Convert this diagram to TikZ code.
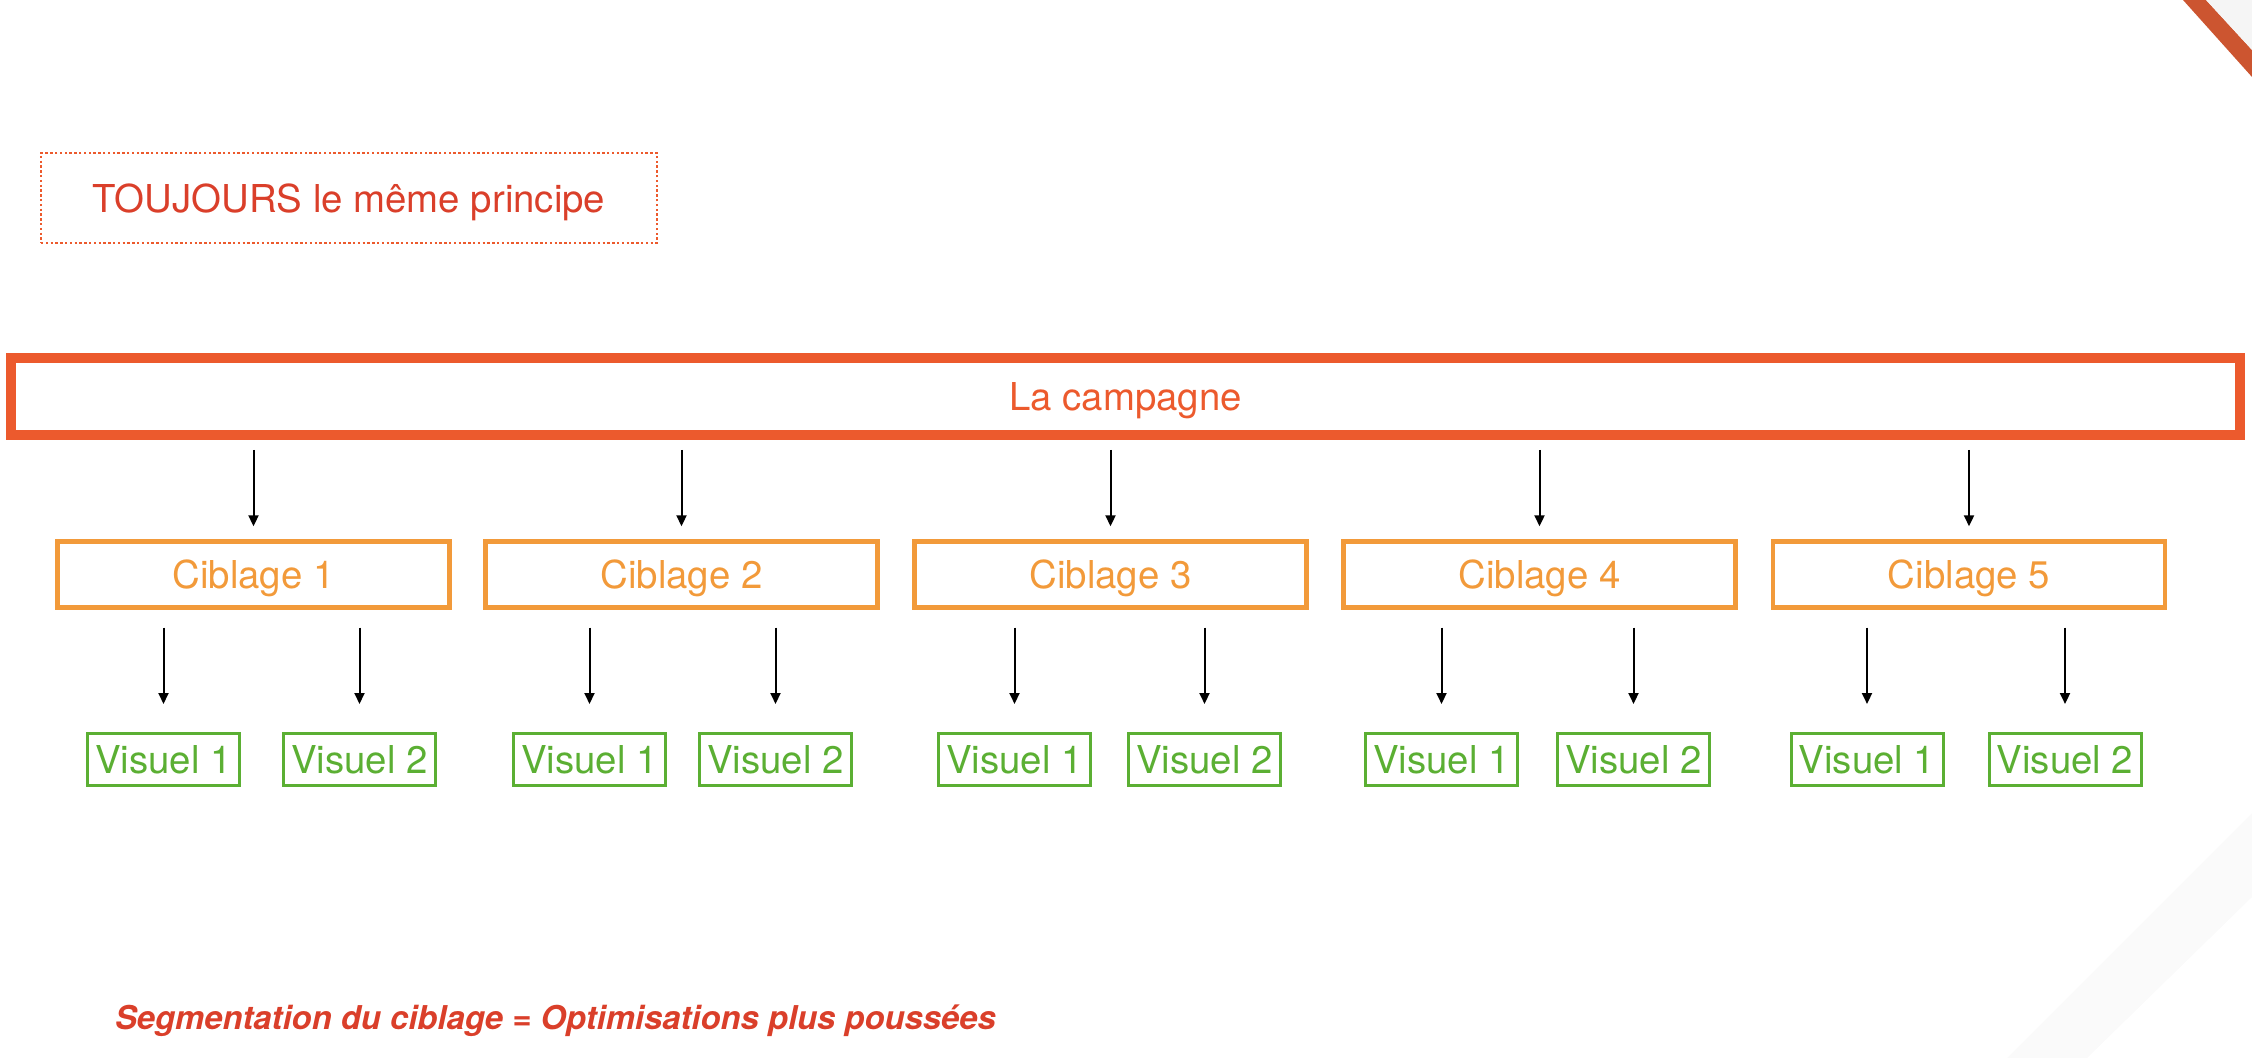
\documentclass[tikz,border=0pt]{standalone}
\usepackage{fontspec}
\setmainfont{TeX Gyre Heros}
\usetikzlibrary{arrows.meta}
\definecolor{rouge}{HTML}{DA3F2A}
\definecolor{campcol}{HTML}{EC5A2D}
\definecolor{cibcol}{HTML}{F29A3A}
\definecolor{viscol}{HTML}{5BAF33}
\definecolor{coin}{HTML}{CC5530}
\begin{document}
\begin{tikzpicture}[x=0.5pt, y=-0.5pt, node distance = 92.5pt,
        txt/.style      = {font=\fontsize{19.2pt}{22pt}\selectfont, text depth=0pt},
        campagne/.style = {txt, draw=campcol, text=campcol, line width=5pt, inner sep=0pt, minimum width=1114.5pt, minimum height=38.5pt},
        ciblage/.style  = {txt, draw=cibcol, text=cibcol, line width=2.2pt, inner sep=0pt, minimum width=196pt, minimum height=33pt},
        visuel/.style   = {txt, draw=viscol, text=viscol, line width=1.5pt, inner sep=0pt, minimum width=76pt, minimum height=26pt},
        fleche/.style   = {line width=1pt, -{Triangle[length=5.5pt, width=5pt]}}]
        \useasboundingbox (0,0) rectangle (2252,1058);
        % coins de la diapo
        \fill[coin] (2183,0) -- (2206,0) -- (2252,50) -- (2252,77) -- cycle;
        \fill[black!4] (2206,0) -- (2252,0) -- (2252,50) -- cycle;
        \fill[black!2] (2007,1058) -- (2087,1058) -- (2252,897) -- (2252,813) -- cycle;
        \node [txt, draw=campcol, text=rouge, line width=1.2pt, dash pattern=on 1.2pt off 1.2pt,
               inner sep=0pt, minimum width=308pt, minimum height=45pt] at (349,198)  (titre) {TOUJOURS le même principe};
        \node [campagne] at (1125.5,396.5)         (camp)  {La campagne};
        \node [ciblage]  at (253.5,574.5)          (c1)    {Ciblage 1};
        \node [ciblage]  at (681.5,574.5)          (c2)    {Ciblage 2};
        \node [ciblage]  at (1110.5,574.5)         (c3)    {Ciblage 3};
        \node [ciblage]  at (1539.5,574.5)         (c4)    {Ciblage 4};
        \node [ciblage]  at (1969,574.5)           (c5)    {Ciblage 5};
        \node [visuel, below of= c1, xshift = -45pt]   (v11)   {Visuel 1};
        \node [visuel, below of= c1, xshift = 53pt]    (v12)   {Visuel 2};
        \node [visuel, below of= c2, xshift = -46pt]   (v21)   {Visuel 1};
        \node [visuel, below of= c2, xshift = 47pt]    (v22)   {Visuel 2};
        \node [visuel, below of= c3, xshift = -48pt]   (v31)   {Visuel 1};
        \node [visuel, below of= c3, xshift = 47pt]    (v32)   {Visuel 2};
        \node [visuel, below of= c4, xshift = -49pt]   (v41)   {Visuel 1};
        \node [visuel, below of= c4, xshift = 47pt]    (v42)   {Visuel 2};
        \node [visuel, below of= c5, xshift = -51pt]   (v51)   {Visuel 1};
        \node [visuel, below of= c5, xshift = 48pt]    (v52)   {Visuel 2};
        \node [anchor=west, text=rouge, font=\fontsize{16.4pt}{19pt}\selectfont\bfseries\itshape]
              at (108,1021) (note) {Segmentation du ciblage = Optimisations plus poussées};
        \path (camp.south -| c1)   edge [fleche, shorten <=5pt, shorten >=6.5pt] (c1);
        \path (camp.south -| c2)   edge [fleche, shorten <=5pt, shorten >=6.5pt] (c2);
        \path (camp.south -| c3)   edge [fleche, shorten <=5pt, shorten >=6.5pt] (c3);
        \path (camp.south -| c4)   edge [fleche, shorten <=5pt, shorten >=6.5pt] (c4);
        \path (camp.south -| c5)   edge [fleche, shorten <=5pt, shorten >=6.5pt] (c5);
        \path (c1.south -| v11)    edge [fleche, shorten <=9pt, shorten >=14pt] (v11);
        \path (c1.south -| v12)    edge [fleche, shorten <=9pt, shorten >=14pt] (v12);
        \path (c2.south -| v21)    edge [fleche, shorten <=9pt, shorten >=14pt] (v21);
        \path (c2.south -| v22)    edge [fleche, shorten <=9pt, shorten >=14pt] (v22);
        \path (c3.south -| v31)    edge [fleche, shorten <=9pt, shorten >=14pt] (v31);
        \path (c3.south -| v32)    edge [fleche, shorten <=9pt, shorten >=14pt] (v32);
        \path (c4.south -| v41)    edge [fleche, shorten <=9pt, shorten >=14pt] (v41);
        \path (c4.south -| v42)    edge [fleche, shorten <=9pt, shorten >=14pt] (v42);
        \path (c5.south -| v51)    edge [fleche, shorten <=9pt, shorten >=14pt] (v51);
        \path (c5.south -| v52)    edge [fleche, shorten <=9pt, shorten >=14pt] (v52);
    \end{tikzpicture}
\end{document}
